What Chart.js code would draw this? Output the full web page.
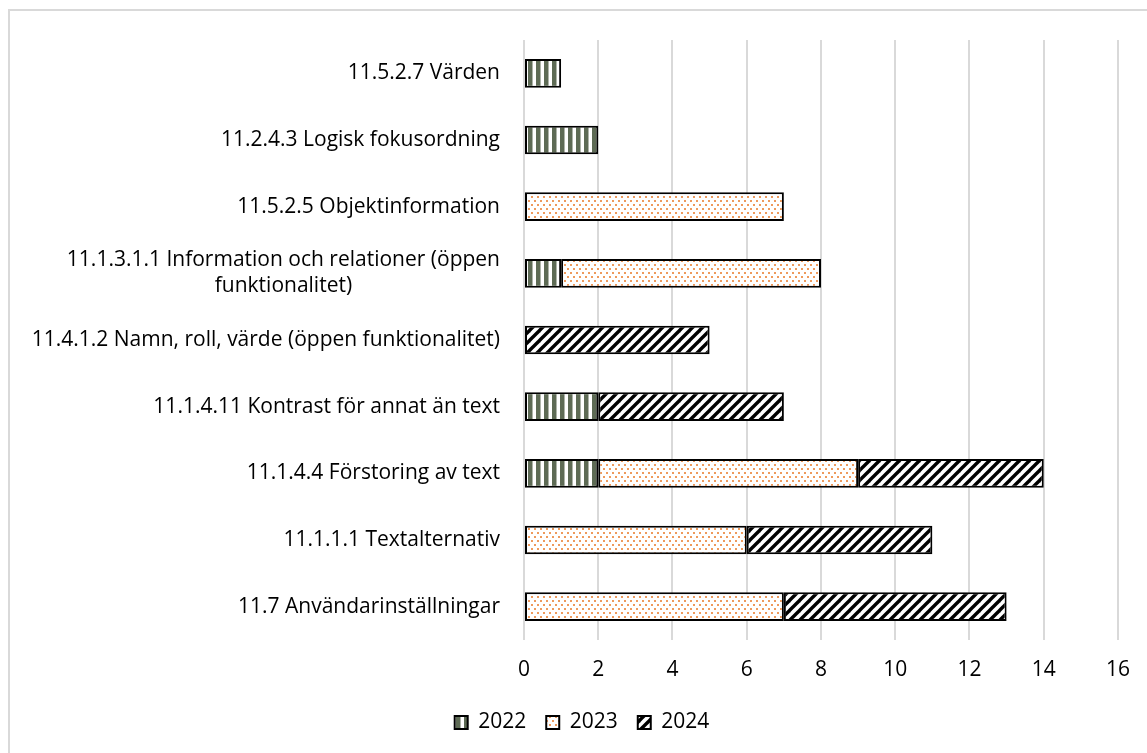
<!DOCTYPE html>
<html><head><meta charset="utf-8">
<script src="https://cdn.jsdelivr.net/npm/chart.js@4/dist/chart.umd.min.js"></script>
<style>
html,body{margin:0;padding:0;background:#fff;}
#wrap{position:relative;width:1147px;height:753px;overflow:hidden;}
#frame{position:absolute;left:8px;top:9px;width:1160px;height:780px;border:2px solid #d9d9d9;box-sizing:border-box;}
canvas{position:absolute;left:0;top:0;}
</style></head>
<body><div id="wrap"><div id="frame"></div><canvas id="c" width="1147" height="753"></canvas></div>
<script>
const FONT = '"Open Sans"';
const FS = 21;
const categories = [
  ['11.5.2.7 Värden'],
  ['11.2.4.3 Logisk fokusordning'],
  ['11.5.2.5 Objektinformation'],
  ['11.1.3.1.1 Information och relationer (öppen', 'funktionalitet)'],
  ['11.4.1.2 Namn, roll, värde (öppen funktionalitet)'],
  ['11.1.4.11 Kontrast för annat än text'],
  ['11.1.4.4 Förstoring av text'],
  ['11.1.1.1 Textalternativ'],
  ['11.7 Användarinställningar']
];
const seriesNames = ['2022', '2023', '2024'];
const values2022 = [1, 2, null, 1, null, 2, 2, null, null];
const values2023 = [null, null, 7, 7, null, null, 7, 6, 7];
const values2024 = [null, null, null, null, 5, 5, 5, 5, 6];
const xTicks = [0, 2, 4, 6, 8, 10, 12, 14, 16];

function mkTile(w, h, draw){
  const c = document.createElement('canvas'); c.width = w; c.height = h;
  const g = c.getContext('2d'); g.fillStyle = '#fff'; g.fillRect(0,0,w,h); draw(g);
  return document.getElementById('c').getContext('2d').createPattern(c, 'repeat');
}
const pat2022 = mkTile(8, 8, g => { g.fillStyle = '#5e6b55'; g.fillRect(0,0,4.5,8); });
const pat2023 = mkTile(6, 8, g => { g.fillStyle = '#ee9a5c'; g.fillRect(0,0,2,2); g.fillRect(3,4,2,2); });
const pat2024 = mkTile(10, 10, g => {
  g.strokeStyle = '#000'; g.lineWidth = 3.4;
  for (let k=-1;k<=1;k++){ g.beginPath(); g.moveTo(-2+k*10, 12); g.lineTo(12+k*10, -2); g.stroke(); }
});

const labelPlugin = {
  id: 'ylabels',
  afterDraw(chart){
    const ctx = chart.ctx, sc = chart.scales.y;
    ctx.save();
    ctx.font = FS + 'px ' + FONT; ctx.fillStyle = '#000'; ctx.textBaseline = 'middle'; ctx.textAlign = 'center';
    const right = 500, lh = 26;
    categories.forEach((lines, i) => {
      const y = sc.getPixelForTick(i);
      const w = Math.max(...lines.map(l => ctx.measureText(l).width));
      const cx = right - w/2;
      lines.forEach((l, j) => ctx.fillText(l, cx, y + (j - (lines.length-1)/2) * lh));
    });
    ctx.restore();
  }
};

new Chart(document.getElementById('c'), {
  type: 'bar',
  data: {
    labels: categories,
    datasets: [
      {label: seriesNames[0], data: values2022, backgroundColor: pat2022},
      {label: seriesNames[1], data: values2023, backgroundColor: pat2023},
      {label: seriesNames[2], data: values2024, backgroundColor: pat2024}
    ].map(d => Object.assign(d, {borderColor:'#000', borderWidth:2, borderSkipped:false, barPercentage:0.43, categoryPercentage:1}))
  },
  options: {
    indexAxis: 'y', responsive: false, animation: false,
    layout: {padding: {left: 46, right: 29, top: 40, bottom: 10}},
    scales: {
      x: {stacked: true, min: 0, max: 16, afterBuildTicks: s => { s.ticks = xTicks.map(v => ({value: v})); },
          grid: {color: '#d9d9d9', lineWidth: 2, drawTicks: false}, border: {display: false},
          ticks: {color: '#000', font: {family: FONT, size: FS}, padding: 17},
          afterFit: s => { s.height = 52; }},
      y: {stacked: true, grid: {display: false}, border: {display: false},
          ticks: {color: 'transparent', font: {family: FONT, size: FS}},
          afterFit: s => { s.width = 478; }}
    },
    plugins: {
      legend: {position: 'bottom', labels: {color: '#000', font: {family: FONT, size: FS}, boxWidth: 13, boxHeight: 13, padding: 20}},
      tooltip: {enabled: false}
    }
  },
  plugins: [labelPlugin]
});
</script></body></html>
